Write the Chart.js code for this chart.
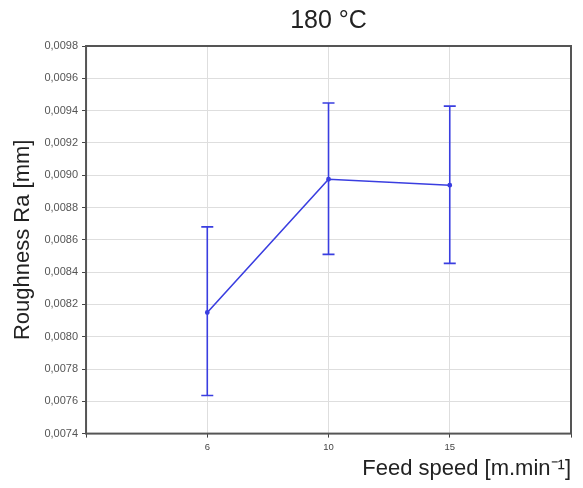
<!DOCTYPE html>
<html>
<head>
<meta charset="utf-8">
<script src="https://cdn.jsdelivr.net/npm/chart.js@4"></script>
<style>
  html, body { margin: 0; padding: 0; background: #fff; }
  #wrap { position: relative; width: 583px; height: 488px; }
</style>
</head>
<body>
<div id="wrap"><canvas id="chart"></canvas></div>
<script>
// Feed speed categories (empty slots pad the ends like the original plot)
const feedLabels = ['', '6', '10', '15', ''];
// Mean roughness Ra [mm]
const meanRa = [null, 0.00815, 0.008975, 0.008938, null];
// Error bar upper / lower limits
const upperRa = [null, 0.00868, 0.009447, 0.009428, null];
const lowerRa = [null, 0.007636, 0.00851, 0.008454, null];
const chartTitle = '180 °C';

const LINE_BLUE = '#3a3ee0';
const FONT = 'Arial, "Liberation Sans", sans-serif';

// Draws vertical error bars with caps from upperRa / lowerRa
const errorBars = {
  id: 'errorBars',
  afterDatasetsDraw(chart) {
    const { ctx, scales: { x, y } } = chart;
    ctx.save();
    ctx.strokeStyle = LINE_BLUE;
    ctx.lineWidth = 1.6;
    feedLabels.forEach((_, i) => {
      if (upperRa[i] == null) return;
      const px = x.getPixelForValue(i);
      const top = y.getPixelForValue(upperRa[i]);
      const bot = y.getPixelForValue(lowerRa[i]);
      ctx.beginPath();
      ctx.moveTo(px, top); ctx.lineTo(px, bot);
      ctx.moveTo(px - 6, top); ctx.lineTo(px + 6, top);
      ctx.moveTo(px - 6, bot); ctx.lineTo(px + 6, bot);
      ctx.stroke();
    });
    ctx.restore();
  },
};

// Dark frame around the plot area + title centred over the plot area
const frame = {
  id: 'frame',
  afterDraw(chart) {
    const { ctx, chartArea: a } = chart;
    ctx.save();
    ctx.strokeStyle = '#555';
    ctx.lineWidth = 2;
    ctx.strokeRect(a.left, a.top, a.right - a.left, a.bottom - a.top);
    ctx.fillStyle = '#222';
    ctx.font = `25px ${FONT}`;
    ctx.textAlign = 'center';
    ctx.textBaseline = 'middle';
    ctx.fillText(chartTitle, (a.left + a.right) / 2, 21);
    ctx.restore();
  },
};

new Chart(document.getElementById('chart'), {
  type: 'line',
  data: {
    labels: feedLabels,
    datasets: [{
      data: meanRa,
      borderColor: LINE_BLUE,
      backgroundColor: LINE_BLUE,
      borderWidth: 1.6,
      pointRadius: 1.6,
      pointHoverRadius: 1.6,
      tension: 0,
    }],
  },
  options: {
    responsive: true,
    maintainAspectRatio: false,
    animation: false,
    layout: { padding: { top: 46, right: 12, left: 6, bottom: 8 } },
    plugins: {
      legend: { display: false },
      tooltip: { enabled: false },
    },
    scales: {
      x: {
        offset: false,
        grid: { color: '#dedede', drawTicks: true, tickLength: 4, tickColor: '#444' },
        border: { display: false },
        ticks: {
          color: '#444',
          font: { family: FONT, size: 9.5 },
          padding: 4,
          maxRotation: 0,
        },
        title: {
          display: true,
          text: 'Feed speed [m.min⁻¹]',
          align: 'end',
          color: '#222',
          font: { family: FONT, size: 22, lineHeight: 1 },
          padding: { top: 1, bottom: 0 },
        },
      },
      y: {
        min: 0.0074,
        max: 0.0098,
        grid: { color: '#dedede', drawTicks: true, tickLength: 4, tickColor: '#444' },
        border: { display: false },
        ticks: {
          stepSize: 0.0002,
          color: '#555',
          font: { family: FONT, size: 11 },
          padding: 4,
          callback: (v) => v.toFixed(4).replace('.', ','),
        },
        title: {
          display: true,
          text: 'Roughness Ra [mm]',
          color: '#222',
          font: { family: FONT, size: 22 },
          padding: { bottom: 4 },
        },
      },
    },
  },
  plugins: [errorBars, frame],
});
</script>
</body>
</html>
